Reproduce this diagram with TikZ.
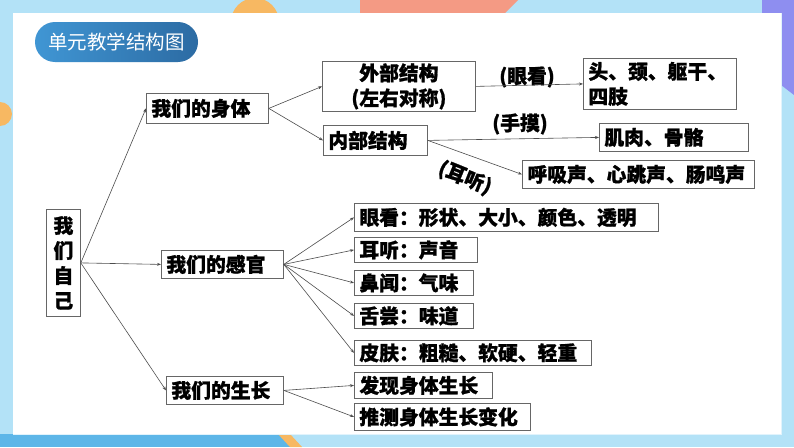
\documentclass[tikz,border=0pt]{standalone}
\usepackage{fontspec}
\newfontfamily\cjk{Noto Sans CJK SC}[BoldFeatures={FakeBold=1}]
\usepackage{xcolor}
\usepackage{tikz}
\usetikzlibrary{arrows.meta,positioning,shapes.geometric,calc}
\definecolor{frameblue}{HTML}{B3E2F7}
\definecolor{darkframe}{HTML}{5DB6E8}
\definecolor{pillA}{HTML}{4096D4}
\definecolor{pillB}{HTML}{2C6BA3}
\definecolor{decoorange}{HTML}{F7B862}
\definecolor{decosalmon}{HTML}{F49A84}
\definecolor{decopurple}{HTML}{8E8EF0}
\tikzstyle{box}=[rectangle, draw=black!60, line width=0.8pt, fill=white, anchor=north west,
  inner ysep=0pt, inner xsep=5pt, align=left, font=\cjk\bfseries\fontsize{19.8}{25}\selectfont]
\tikzstyle{lbl}=[inner sep=0pt, font=\cjk\bfseries\fontsize{19.8}{24}\selectfont]
\tikzstyle{arrow}=[-{Stealth[length=4pt,width=3pt]}, draw=black!70, line width=0.6pt]

\begin{document}
\begin{tikzpicture}[x=1pt,y=-1pt]
\useasboundingbox (0,0) rectangle (794,447);
\fill[frameblue] (0,0) rectangle (794,447);
\fill[darkframe] (0,434) rectangle (290,447);
\fill[decoorange] (278,434) -- (290,434) -- (302,447) -- (290,447) -- cycle;
\fill[decoorange] (255,22) circle (24);
\fill[decosalmon] (360,0) rectangle (505,13);
\fill[decosalmon] (505,0) -- (518,0) -- (505,13) -- cycle;
\fill[decopurple] (762,0) -- (794,0) -- (794,95) -- (781,85) -- (781,13) -- (762,13) -- cycle;
\fill[decoorange] (0,114) circle (12);
\draw[draw=white!60!frameblue, line width=0.8pt] (13,13) rectangle (781,434);
\fill[white] (13,13) rectangle (781,434);
\shade[left color=pillA, right color=pillB, rounded corners=20pt] (35,22) rectangle (198,62);
\node[font=\cjk\fontsize{19.5}{22}\selectfont, text=white] (title) at (116.5,42) {单元教学结构图};
\node[box, align=center, inner xsep=0pt, minimum width=34pt, minimum height=107pt] (self) at (46,209) {我\\们\\自\\己};
\node[box, text width=112pt, minimum height=30pt] (body) at (146,93) {我们的身体};
\node[box, text width=112pt, minimum height=28pt] (sense) at (161,250) {我们的感官};
\node[box, text width=107pt, minimum height=28pt] (grow) at (166,376) {我们的生长};
\node[box, align=center, inner xsep=0pt, minimum width=153pt, minimum height=50pt] (outer) at (322,61) {外部结构\\(左右对称)};
\node[box, text width=94pt, minimum height=30pt] (inner) at (323,125) {内部结构};
\node[box, text width=143pt, minimum height=51pt] (head) at (583,58) {头、颈、躯干、\\四肢};
\node[box, text width=139pt, minimum height=28pt] (muscle) at (599,123) {肌肉、骨骼};
\node[box, text width=222pt, minimum height=28pt] (sound) at (522,160) {呼吸声、心跳声、肠鸣声};
\node[box, text width=294pt, minimum height=28pt] (eye) at (354,203) {眼看：形状、大小、颜色、透明};
\node[box, text width=113pt, minimum height=25pt] (ear) at (354,237) {耳听：声音};
\node[box, text width=109pt, minimum height=25pt] (nose) at (354,270) {鼻闻：气味};
\node[box, text width=109pt, minimum height=25pt] (tongue) at (354,303) {舌尝：味道};
\node[box, text width=227pt, minimum height=25pt] (skin) at (354,340) {皮肤：粗糙、软硬、轻重};
\node[box, text width=128pt, minimum height=26pt] (find) at (354,372) {发现身体生长};
\node[box, text width=166pt, minimum height=27pt] (guess) at (354,403) {推测身体生长变化};
\node[lbl] (look) at (527,77) {(眼看)};
\node[lbl] (touch) at (520,124) {(手摸)};
\node[lbl, rotate=-22] (listen) at (465,178) {(耳听)};
\draw[arrow] (self.east) -- (body.west); \draw[arrow] (self.east) -- (sense.west);
\draw[arrow] (self.east) -- (grow.west); \draw[arrow] (body.east) -- (outer.west);
\draw[arrow] (body.east) -- (inner.west); \draw[arrow] (outer.east) -- (head.west);
\draw[arrow] (inner.east) -- (muscle.west); \draw[arrow] (inner.east) -- (sound.west);
\draw[arrow] (sense.east) -- (eye.west); \draw[arrow] (sense.east) -- (ear.west);
\draw[arrow] (sense.east) -- (nose.west); \draw[arrow] (sense.east) -- (tongue.west);
\draw[arrow] (sense.east) -- (skin.west); \draw[arrow] (grow.east) -- (find.west);
\draw[arrow] (grow.east) -- (guess.west);
\end{tikzpicture}
\end{document}
